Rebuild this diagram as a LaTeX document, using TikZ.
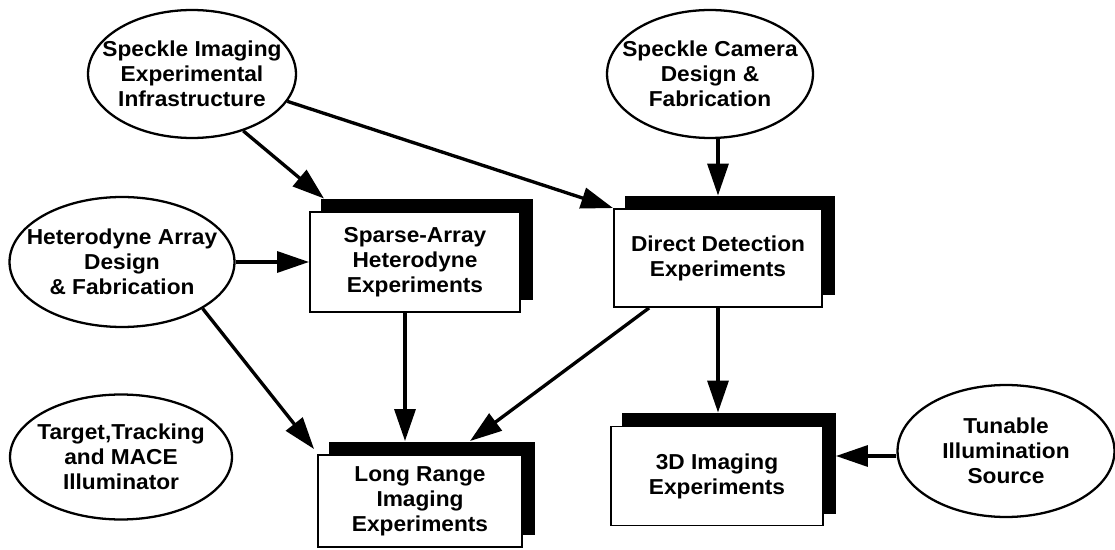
\documentclass[tikz,border=0pt]{standalone}
\usepackage{fontspec}
\setmainfont{Liberation Sans}[FakeStretch=1.05]
\usetikzlibrary{shapes.geometric,arrows.meta,shadows}
\begin{document}
\begin{tikzpicture}[x=0.02cm,y=-0.02cm,
  every node/.style={font=\bfseries\fontsize{12.3}{14.2}\selectfont},
  oval/.style={ellipse,draw,line width=1.3pt,inner sep=0pt},
  lbl/.style={align=center,inner sep=0pt},
  box/.style={rectangle,draw,fill=white,line width=1.1pt,align=center,
    general shadow={fill=black,draw=black,shadow xshift=0.24cm,shadow yshift=0.25cm}},
  arr/.style={line width=1.9pt,-{Triangle[length=0.64cm,width=0.42cm]}}]
\useasboundingbox (0,0) rectangle (1115,550);

% ellipses
\node[oval,minimum width=4.16cm,minimum height=2.56cm] (si) at (192,74) {};
\node[lbl] at (si) {Speckle Imaging\\Experimental\\Infrastructure};
\node[oval,minimum width=4.12cm,minimum height=2.56cm] (sc) at (710,74) {};
\node[lbl] at (sc) {Speckle Camera\\Design \&\\Fabrication};
\node[oval,minimum width=4.5cm,minimum height=2.6cm] (het) at (122,262) {};
\node[lbl] at (het) {Heterodyne Array\\Design\\\& Fabrication};
\node[oval,minimum width=4.44cm,minimum height=2.5cm] (tgt) at (121,457) {};
\node[lbl] at (tgt) {Target,Tracking\\and MACE\\Illuminator};
\node[oval,minimum width=4.34cm,minimum height=2.64cm] (tun) at (1006,451) {};
\node[lbl] at (tun) {Tunable\\Illumination\\Source};

% boxes
\node[box,minimum width=4.2cm,minimum height=2.0cm] (sp) at (415,262) {Sparse-Array\\Heterodyne\\Experiments};
\node[box,minimum width=4.16cm,minimum height=1.96cm] (dd) at (718,258) {Direct Detection\\Experiments};
\node[box,minimum width=4.08cm,minimum height=1.84cm] (lr) at (420,501) {Long Range\\Imaging\\Experiments};
\node[box,minimum width=4.24cm,minimum height=1.98cm] (td) at (717,476) {3D Imaging\\Experiments};

% connectors
\draw[arr] (si.-48) -- ([shift={(0.3cm,0.25cm)}]sp.north west);
\draw[arr] (si.-16) -- (dd.north west);
\draw[arr] (sc.south -| dd.north) -- ([yshift=0.25cm]dd.north);
\draw[arr] (het.east) -- (sp.west);
\draw[arr] (het.-30) -- ([shift={(-0.06cm,0.1cm)}]lr.north west);
\draw[arr] ([xshift=-0.2cm]sp.south) -- ([xshift=-0.2cm,yshift=0.26cm]sp.south |- lr.north);
\draw[arr] ([xshift=0.72cm]dd.south west) -- ([shift={(1cm,0.26cm)}]lr.north);
\draw[arr] (dd.south) -- ([yshift=0.26cm]dd.south |- td.north);
\draw[arr] ([yshift=-0.1cm]tun.west) -- ([xshift=0.24cm,yshift=-0.1cm]tun.west -| td.east);
\end{tikzpicture}
\end{document}
